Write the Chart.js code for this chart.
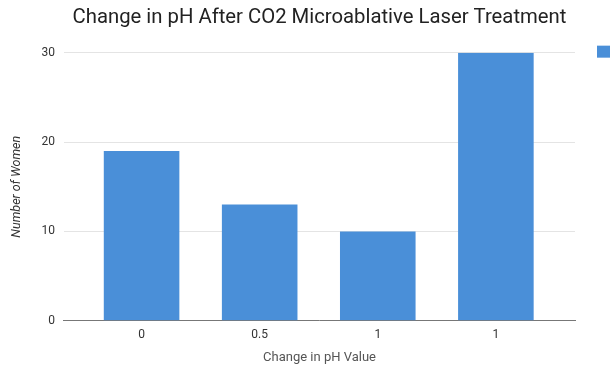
<!DOCTYPE html>
<html>
<head>
<meta charset="utf-8">
<script src="https://cdn.jsdelivr.net/npm/chart.js@4.4.1/dist/chart.umd.min.js"></script>
<style>
  html, body { margin: 0; padding: 0; background: #ffffff; overflow: hidden; }
  #wrap { width: 610px; height: 369px; }
</style>
</head>
<body>
<div id="wrap"><canvas id="chart" width="610" height="369"></canvas></div>
<script>
// pH change groups and how many women fall in each
const categories = ['0', '0.5', '1', '1'];
const womenCount = [19, 13, 10, 30];
const yTicks = [0, 10, 20, 30];

const barColor = '#4a8fd8';
const fontFamily = 'Roboto, "Open Sans", Arial, sans-serif';

// Small colour swatch for the series, sitting to the right of the plot
const seriesSwatch = {
  id: 'seriesSwatch',
  afterDraw(chart) {
    const { ctx, chartArea } = chart;
    ctx.save();
    ctx.fillStyle = chart.data.datasets[0].backgroundColor;
    ctx.fillRect(chartArea.right + 22, chartArea.top - 7, 13, 12);
    ctx.restore();
  }
};

new Chart(document.getElementById('chart'), {
  type: 'bar',
  data: {
    datasets: [{
      label: 'Number of Women',
      data: womenCount.map((v, i) => ({ x: i, y: v })),
      backgroundColor: barColor,
      borderWidth: 0,
      categoryPercentage: 0.8,
      barPercentage: 0.8
    }]
  },
  options: {
    responsive: false,
    animation: false,
    layout: { padding: { left: 0, right: 35, top: 0, bottom: 0 } },
    plugins: {
      legend: { display: false },
      tooltip: { enabled: false },
      title: {
        display: true,
        fullSize: false,
        text: 'Change in pH After CO2 Microablative Laser Treatment',
        color: '#222222',
        font: { family: fontFamily, size: 20.3, weight: 'normal' },
        padding: { top: 6, bottom: 22.3 }
      }
    },
    scales: {
      x: {
        type: 'linear',
        offset: false,
        min: -0.657,
        max: 3.67,
        afterBuildTicks(scale) {
          scale.ticks = categories.map((_, i) => ({ value: i }));
        },
        ticks: {
          callback: (value) => categories[value],
          color: '#333333',
          font: { family: fontFamily, size: 12 },
          padding: 7,
          maxRotation: 0,
          autoSkip: false
        },
        grid: { display: false, drawTicks: false },
        border: { display: true, color: '#777777', width: 1 },
        title: {
          display: true,
          text: 'Change in pH Value',
          color: '#555555',
          font: { family: fontFamily, size: 13 },
          padding: { top: 1, bottom: 3.2 }
        }
      },
      y: {
        min: 0,
        max: 30,
        afterBuildTicks(scale) {
          scale.ticks = yTicks.map(v => ({ value: v }));
        },
        ticks: {
          color: '#333333',
          font: { family: fontFamily, size: 12 },
          padding: 9
        },
        grid: { color: '#e4e4e4', drawTicks: false },
        border: { display: false },
        title: {
          display: true,
          text: 'Number of Women',
          color: '#333333',
          font: { family: fontFamily, size: 12.5, style: 'italic' },
          padding: { top: 9.5, bottom: 8 }
        }
      }
    }
  },
  plugins: [seriesSwatch]
});
</script>
</body>
</html>
